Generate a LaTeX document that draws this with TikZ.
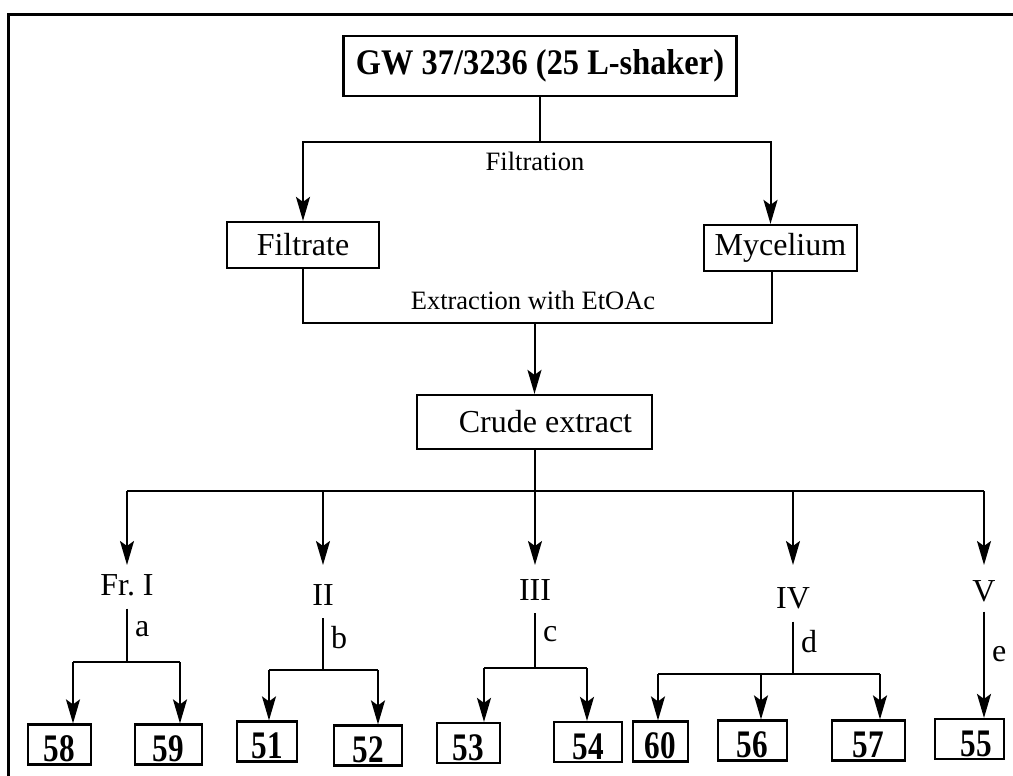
\documentclass[tikz,border=0pt]{standalone}
\usepackage{fontspec}
\setmainfont{Liberation Serif}
\newfontfamily\narrowfont{Liberation Serif}[FakeStretch=0.8]
\newfontfamily\titlefont{Liberation Serif}[FakeStretch=0.9]
\usetikzlibrary{arrows.meta}

\begin{document}
\begin{tikzpicture}[x=1pt,y=-1pt]
\tikzstyle{block} = [rectangle, draw, line width=2.2pt, inner sep=0pt,
minimum height=46pt, font=\fontsize{32}{36}\selectfont]
\tikzstyle{num} = [rectangle, draw, line width=2.2pt, inner sep=0pt,
minimum height=40pt, text height=34pt, text depth=0pt,
font=\narrowfont\bfseries\fontsize{39}{42}\selectfont]
\tikzstyle{frac} = [inner sep=0pt, anchor=base, font=\fontsize{32}{36}\selectfont]
\tikzstyle{note} = [inner sep=0pt, font=\fontsize{26.5}{30}\selectfont]
\tikzstyle{tag} = [right, inner sep=7pt, font=\fontsize{32}{36}\selectfont]
\tikzstyle{line} = [draw, line width=2pt]
\tikzstyle{arrow} = [line, -{Stealth[length=24pt,width=14pt,inset=5pt]}]

\useasboundingbox (0,0) rectangle (1013,776);
\draw[line width=3pt] (8,15) rectangle (1040,800);

% row 1
\node[block, minimum width=393pt, minimum height=60pt,
  font=\titlefont\bfseries\fontsize{36}{40}\selectfont] (src) at (540,66) {GW 37/3236 (25 L-shaker)};
\coordinate (split) at (540,142);
\node[note] (filtn) at (535,161) {Filtration};
% row 2
\node[block, minimum width=152pt] (filt) at (303,245) {Filtrate};
\node[block, minimum width=153pt] (myc) at (780.5,248) {Mycelium};
\coordinate (merge) at (534.5,323);
\node[note] (extn) at (533,300) {Extraction with EtOAc};
% row 3
\node[block, minimum width=235pt, minimum height=54pt] (crude) at (534.5,422) {\hspace*{22pt}Crude extract};
\coordinate (fork) at (534.5,491);
\coordinate (tipline) at (0,565);
% row 4
\node[frac] (f1) at (127,595) {Fr.\ I};
\node[frac] (f2) at (323,605) {II};
\node[frac] (f3) at (535,600) {III};
\node[frac] (f4) at (793,608) {IV};
\node[frac] (f5) at (984,601) {V};
% row 5
\coordinate (l1) at (73,662);  \coordinate (r1) at (180,662);
\coordinate (l2) at (269,670); \coordinate (r2) at (378,670);
\coordinate (l3) at (484,668); \coordinate (r3) at (587,668);
\coordinate (l4) at (658,674); \coordinate (m4) at (761,674); \coordinate (r4) at (880,674);
% row 6
\foreach \n/\x/\y/\w in {58/59.5/744.5/63, 59/168.5/744.5/67, 51/267/741.5/60,
  52/368/745.5/68, 53/468.5/743/63, 54/588/742/68, 60/660.5/741.5/55,
  56/752.5/740.5/69, 57/868.5/740.5/73}
  \node[num, minimum width=\w pt] (n\n) at (\x,\y) {\n};
\node[num, minimum width=69pt] (n55) at (969.5,739) {\hspace*{14pt}55};

\path[line] (src) -- (split);
\path[arrow] (split) -| (filt);
\path[arrow] (split) -| ([xshift=-10pt]myc.north);
\path[line] (filt.south) |- (merge) -| ([xshift=-8.5pt]myc.south);
\path[arrow] (merge) -- (crude);
\path[line] (crude) -- (fork);
\path[line] (f1 |- fork) -- (f5 |- fork);
\foreach \f in {f1,f2,f3,f4,f5}
  \path[arrow] (\f |- fork) -- (\f |- tipline);

\path[line, shorten <=13pt] (f1.south) -- node[tag] (ta) {a} (f1 |- l1);
\path[line, shorten <=13pt] (f2.south) -- node[tag] (tb) {b} (f2 |- l2);
\path[line, shorten <=13pt] (f3.south) -- node[tag] (tc) {c} (f3 |- l3);
\path[line, shorten <=13pt] (f4.south) -- node[tag] (td) {d} (f4 |- l4);
\path[arrow, shorten <=10pt] (f5.south) -- node[tag, pos=0.45] (te) {e} (f5 |- n55.north);

\path[line] (l1) -- (r1);
\path[line] (l2) -- (r2);
\path[line] (l3) -- (r3);
\path[line] (l4) -- (r4);
\path[arrow] (l1) -- (l1 |- n58.north);
\path[arrow] (r1) -- (r1 |- n59.north);
\path[arrow] (l2) -- (l2 |- n51.north);
\path[arrow] (r2) -- (r2 |- n52.north);
\path[arrow] (l3) -- (l3 |- n53.north);
\path[arrow] (r3) -- (r3 |- n54.north);
\path[arrow] (l4) -- (l4 |- n60.north);
\path[arrow] (m4) -- (m4 |- n56.north);
\path[arrow] (r4) -- (r4 |- n57.north);

\end{tikzpicture}
\end{document}
